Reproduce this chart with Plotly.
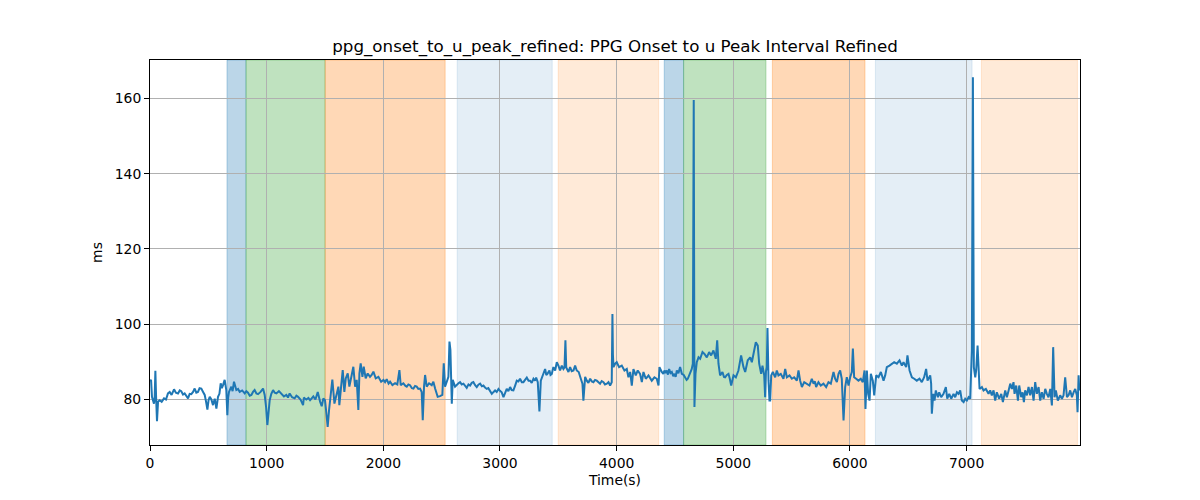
import plotly.graph_objects as go

# ---- data ----
time_s = [
    0, 9, 17, 26, 34, 40, 46, 53, 60, 69, 83, 100, 120, 137, 154, 169, 185, 206, 222, 240,
    255, 268, 283, 297, 312, 326, 340, 354, 369, 383, 397, 411, 425, 440, 455, 469, 480, 492, 502, 512,
    526, 540, 555, 569, 583, 595, 606, 616, 626, 640, 654, 663, 670, 677, 697, 708, 720, 730, 740, 755,
    769, 790, 812, 826, 840, 855, 869, 883, 897, 912, 926, 948, 969, 983, 995, 1006, 1016, 1026, 1040, 1055,
    1069, 1083, 1105, 1126, 1148, 1169, 1183, 1197, 1218, 1240, 1255, 1269, 1290, 1312, 1319, 1326,
    1340, 1358, 1372, 1386, 1400, 1418, 1438, 1458, 1472, 1486, 1500, 1509, 1523, 1535, 1552, 1563, 1581, 1601,
    1615, 1623, 1638, 1652, 1666, 1678, 1695, 1709, 1729, 1743, 1758, 1772, 1786, 1795, 1806, 1821, 1832, 1849,
    1866, 1886, 1900, 1915, 1935, 1958, 1981, 2001, 2015, 2029, 2045, 2058, 2078, 2101, 2120, 2138, 2149, 2172,
    2190, 2201, 2215, 2229, 2245, 2258, 2272, 2286, 2300, 2315, 2329, 2338, 2349, 2358, 2372, 2392, 2415, 2429,
    2444, 2466, 2486, 2506, 2518, 2529, 2544, 2558, 2567, 2575, 2587, 2595, 2615, 2630, 2644, 2658,
    2672, 2687, 2700, 2715, 2730, 2744, 2758, 2772, 2787, 2801, 2815, 2830, 2845, 2858, 2872, 2887, 2900, 2915,
    2930, 2945, 2958, 2972, 2987, 3000, 3015, 3030, 3045, 3058, 3072, 3087, 3100, 3115, 3130, 3144, 3158, 3172,
    3187, 3201, 3215, 3230, 3245, 3258, 3272, 3287, 3300, 3310, 3324, 3338, 3350, 3362, 3373, 3387, 3397, 3407,
    3424, 3433, 3444, 3458, 3473, 3487, 3501, 3515, 3530, 3544, 3553, 3561, 3568, 3573, 3587, 3601, 3615, 3630,
    3644, 3658, 3675, 3693, 3707, 3715, 3722, 3730, 3744, 3758, 3773, 3787, 3801, 3815, 3830, 3845, 3858, 3872,
    3887, 3900, 3916, 3930, 3944, 3958, 3964, 3968, 3973,
    3987, 4001, 4021, 4044, 4067, 4087, 4101, 4116, 4130, 4144, 4164, 4181, 4201, 4216, 4230, 4250, 4273, 4287,
    4301, 4324, 4344, 4359, 4367, 4387, 4400, 4410, 4420, 4430, 4440, 4450, 4462, 4473, 4485, 4496, 4506, 4516,
    4530, 4544, 4559, 4575, 4587, 4600, 4610, 4630, 4644, 4653, 4661, 4667, 4676, 4687, 4702, 4716, 4736, 4753,
    4773, 4793, 4810, 4830, 4840, 4850, 4862, 4873, 4887, 4907, 4920, 4930, 4945, 4959, 4970, 4982, 5002, 5022,
    5044, 5067, 5087, 5102, 5124, 5145, 5159, 5173, 5193, 5210, 5222, 5239, 5250, 5265, 5273, 5280, 5287, 5293,
    5298, 5302, 5310,
    5316, 5325, 5339, 5359, 5373, 5387, 5407, 5430, 5445, 5459, 5482, 5502, 5522, 5545, 5559, 5573, 5588, 5608,
    5630, 5653, 5673, 5688, 5700, 5710, 5730, 5750, 5773, 5796, 5816, 5836, 5859, 5873, 5888, 5902, 5916, 5930,
    5945, 5959, 5973, 5988, 6002, 6016, 6025, 6036, 6053, 6073, 6093, 6110, 6125, 6133, 6145, 6156, 6168, 6179,
    6196, 6208, 6225, 6245, 6265, 6288, 6302, 6316, 6339, 6359, 6379, 6402, 6425, 6445, 6459, 6482, 6493, 6511,
    6531, 6551, 6573, 6596, 6616, 6636, 6653,
    6665, 6674, 6688, 6696, 6702, 6714, 6725, 6736, 6754, 6765, 6782, 6802, 6822, 6834, 6851, 6868, 6888, 6902,
    6917, 6931, 6945, 6959, 6974, 6988, 7002, 7017, 7031, 7039, 7045, 7054, 7062, 7074, 7082, 7094, 7102, 7111,
    7131, 7145, 7165, 7188, 7202, 7216, 7231, 7245, 7259, 7279, 7297, 7311, 7331, 7345, 7360, 7374, 7388, 7402,
    7411, 7425, 7440, 7451, 7468, 7480, 7491, 7502, 7517, 7531, 7545, 7560, 7574, 7588, 7602, 7617, 7631, 7645,
    7660, 7674, 7688, 7702, 7717, 7731, 7742, 7754, 7765, 7782, 7802, 7817, 7831, 7845, 7860, 7874, 7888, 7903,
    7917, 7931, 7945, 7951, 7960, 7966, 7972,
]

values_ms = [
    84.8, 85.2, 80.7, 79.8, 78.9, 80.5, 87.6, 80.0, 74.2, 79.4, 79.8, 79.4, 80.3, 80.0, 81.6, 82.0, 81.2, 82.7, 81.8, 81.6,
    82.4, 82.2, 81.3, 81.6, 81.0, 80.3, 81.5, 81.4, 82.0, 82.9, 81.8, 82.0, 83.0, 82.9, 82.0, 81.2, 79.5, 77.3, 79.8, 80.7,
    80.0, 78.5, 80.2, 77.6, 80.7, 81.5, 84.3, 83.0, 83.8, 85.2, 82.5, 75.8, 80.5, 82.0, 83.4, 82.2, 84.7, 83.5, 82.5, 82.8,
    82.0, 82.4, 81.6, 82.2, 81.8, 81.0, 81.2, 82.0, 82.5, 81.6, 81.4, 82.0, 82.9, 81.2, 78.0, 73.2, 77.5, 79.8, 81.5, 82.5,
    81.8, 81.6, 82.2, 81.6, 80.8, 81.2, 80.5, 81.6, 80.6, 80.3, 81.0, 80.7, 80.0, 78.5, 80.5, 80.3,
    80.0, 80.4, 79.8, 80.3, 80.8, 80.0, 82.0, 79.4, 78.2, 80.3, 79.8, 77.2, 72.7, 77.2, 81.6, 85.3, 78.9, 81.6,
    83.4, 78.5, 84.3, 87.8, 82.0, 85.6, 86.9, 83.4, 86.5, 88.7, 83.4, 85.2, 77.2, 86.9, 89.6, 86.0, 88.7, 85.6,
    86.9, 86.0, 86.5, 87.4, 85.6, 86.0, 84.7, 85.2, 84.6, 85.4, 84.2, 84.7, 83.8, 84.3, 84.0, 87.8, 83.8, 84.3,
    83.6, 83.4, 84.0, 83.8, 83.0, 82.9, 83.6, 83.4, 82.8, 82.9, 82.0, 74.5, 83.4, 86.5, 83.4, 84.3, 83.8, 84.7,
    82.9, 80.7, 80.9, 81.2, 89.6, 83.4, 84.7, 86.0, 95.4, 93.2, 78.9, 85.2, 83.4, 84.0, 84.3, 84.6,
    84.0, 84.2, 83.6, 83.1, 84.0, 83.7, 84.4, 84.6, 83.8, 83.3, 83.9, 84.2, 83.5, 83.7, 83.2, 82.8, 83.0, 82.4,
    81.5, 82.0, 82.4, 82.0, 82.8, 82.3, 81.9, 80.6, 81.8, 82.8, 82.2, 83.3, 82.5, 82.4, 83.7, 85.0, 84.8, 85.5,
    84.6, 84.6, 85.2, 85.8, 85.0, 85.0, 84.4, 85.5, 85.0, 85.8, 84.6, 76.8, 85.0, 86.0, 87.3, 88.1, 86.5, 86.8,
    87.7, 86.5, 86.8, 88.6, 87.7, 89.9, 89.0, 87.7, 89.0, 88.1, 88.5, 95.7, 88.5, 88.1, 87.3, 88.6, 87.5, 87.7,
    89.0, 87.7, 87.3, 85.5, 84.2, 79.7, 83.0, 86.0, 85.0, 84.4, 85.5, 84.8, 84.6, 85.2, 85.0, 84.5, 84.2, 84.9,
    84.6, 84.0, 84.2, 84.6, 83.7, 84.6, 102.7, 92.0, 88.6,
    89.5, 89.9, 88.6, 89.0, 87.7, 88.1, 85.9, 87.3, 83.7, 88.1, 86.4, 87.7, 86.8, 84.6, 87.3, 85.5, 86.4, 85.6,
    85.0, 85.9, 85.5, 83.7, 88.6, 87.3, 86.8, 87.7, 87.0, 87.7, 86.6, 88.1, 87.0, 87.3, 86.2, 86.8, 86.0, 87.7,
    87.0, 88.6, 86.8, 86.5, 85.9, 85.2, 85.5, 86.8, 88.1, 89.5, 159.6, 78.0, 86.8, 89.9, 91.2, 90.8, 92.6, 92.1,
    91.2, 92.6, 91.7, 93.0, 91.5, 90.8, 95.7, 89.5, 86.4, 87.3, 86.0, 85.9, 86.5, 86.8, 85.5, 83.7, 86.4, 85.9,
    87.7, 91.7, 88.6, 87.3, 90.4, 91.2, 89.9, 92.1, 95.2, 94.3, 89.5, 86.8, 89.0, 86.4, 80.6, 87.5, 88.6, 99.0,
    88.0, 85.0, 79.7,
    79.7, 86.4, 87.3, 85.9, 87.7, 86.4, 86.8, 85.5, 88.1, 85.9, 86.4, 85.5, 85.9, 85.0, 87.7, 85.0, 83.3, 84.6,
    84.2, 83.7, 85.5, 84.2, 84.8, 83.3, 84.6, 83.7, 84.2, 83.3, 84.6, 84.2, 87.3, 85.5, 84.6, 86.8, 87.7, 85.5,
    74.4, 83.3, 85.9, 83.7, 85.9, 87.3, 93.5, 85.9, 85.5, 85.0, 85.5, 84.6, 87.7, 77.5, 87.7, 81.5, 79.7, 86.8,
    85.0, 81.1, 86.4, 85.9, 87.3, 85.0, 86.4, 88.6, 89.0, 89.5, 89.9, 89.5, 90.4, 89.0, 89.9, 88.6, 91.7, 87.7,
    85.9, 85.5, 85.0, 85.5, 84.6, 85.9, 88.1,
    85.0, 85.5, 86.4, 84.2, 76.2, 81.5, 79.7, 82.4, 80.6, 81.9, 80.6, 81.5, 83.3, 80.2, 81.5, 80.2, 81.5, 80.6,
    81.9, 81.5, 82.4, 79.7, 79.3, 80.2, 79.7, 80.6, 80.2, 87.7, 93.0, 165.6, 88.6, 85.9, 87.7, 94.3, 87.7, 82.8,
    83.3, 82.4, 82.8, 81.5, 82.4, 81.1, 82.4, 79.7, 81.9, 80.2, 81.5, 79.3, 82.4, 80.6, 82.4, 84.2, 82.8, 84.6,
    81.5, 83.7, 79.7, 83.7, 80.6, 81.9, 79.3, 82.4, 81.1, 83.3, 81.1, 83.3, 79.7, 84.6, 81.5, 83.3, 79.7, 81.9,
    80.2, 82.8, 81.5, 80.6, 82.8, 78.4, 93.9, 80.6, 82.4, 79.7, 81.1, 80.2, 81.1, 85.9, 80.6, 81.1, 82.4, 80.6,
    81.9, 82.8, 81.1, 76.6, 86.4, 82.4, 84.0,
]

# shaded periods (start, end, kind)
span_starts = [660, 823, 1501, 2633, 3499, 4408, 4574, 5335, 6218, 7127]
span_ends = [823, 1501, 2530, 3448, 4360, 4574, 5280, 6129, 7047, 7950]
span_kinds = ["blue", "green", "orange", "lightblue", "lightorange",
              "blue", "green", "orange", "lightblue", "lightorange"]

x_ticks = [0, 1000, 2000, 3000, 4000, 5000, 6000, 7000]
y_ticks = [80, 100, 120, 140, 160]

title_text = "ppg_onset_to_u_peak_refined: PPG Onset to u Peak Interval Refined"

span_colors = {
    "blue": "rgba(31,119,180,0.3)",
    "green": "rgba(44,160,44,0.3)",
    "orange": "rgba(255,127,14,0.3)",
    "lightblue": "rgba(31,119,180,0.12)",
    "lightorange": "rgba(255,127,14,0.16)",
}

fig = go.Figure()
fig.add_trace(go.Scatter(
    x=time_s, y=values_ms, mode="lines",
    line=dict(color="#1f77b4", width=2),
    showlegend=False, hoverinfo="x+y",
))

for s, e, k in zip(span_starts, span_ends, span_kinds):
    fig.add_shape(type="rect", xref="x", yref="paper", x0=s, x1=e, y0=0, y1=1,
                  fillcolor=span_colors[k], line=dict(color=span_colors[k], width=1),
                  layer="below")

# the page body adds an 8px offset; margins compensate so the axes sit at 150..1080 x 60..445
font_family = "DejaVu Sans, Liberation Sans, sans-serif"
fig.update_layout(
    width=1200, height=500,
    margin=dict(l=142, r=128, t=52, b=63),
    paper_bgcolor="white", plot_bgcolor="white",
    font=dict(family=font_family, size=13.9, color="black"),
    title=dict(text=title_text, x=0.5, xref="paper", xanchor="center", yref="container",
               y=1 - 38 / 500, yanchor="middle", font=dict(size=16.7, color="black")),
)
fig.update_xaxes(
    range=[0, 7972], tickvals=x_ticks, ticks="outside", ticklen=5, tickwidth=1,
    tickcolor="black", showline=True, linecolor="black", linewidth=1, mirror=True,
    showgrid=True, gridcolor="#b0b0b0", gridwidth=1, zeroline=False,
    title=dict(text="Time(s)", standoff=5, font=dict(size=13.9)),
    tickfont=dict(size=13.9),
)
fig.update_yaxes(
    range=[67.9, 170.2], tickvals=y_ticks, ticks="outside", ticklen=5, tickwidth=1,
    tickcolor="black", showline=True, linecolor="black", linewidth=1, mirror=True,
    showgrid=True, gridcolor="#b0b0b0", gridwidth=1, zeroline=False,
    title=dict(text="ms", standoff=8, font=dict(size=13.9)),
    tickfont=dict(size=13.9),
)

fig.write_html("out.html")
